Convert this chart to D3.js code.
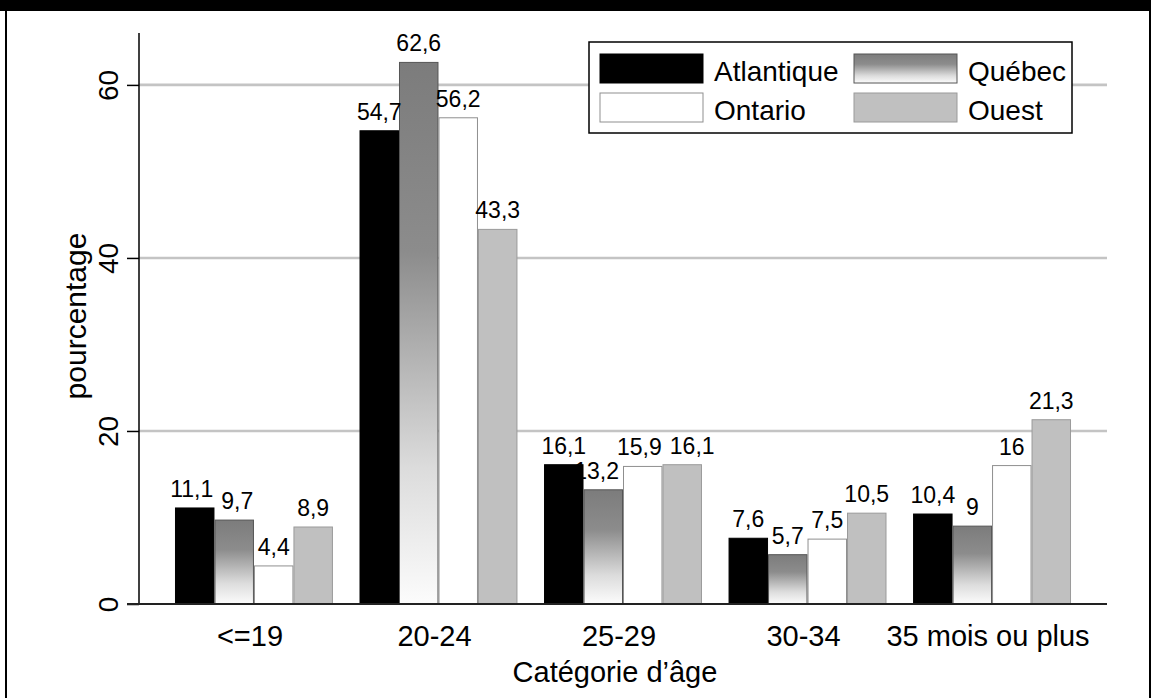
<!DOCTYPE html>
<html>
<head>
<meta charset="utf-8">
<script src="https://cdn.jsdelivr.net/npm/d3@7"></script>
<style>
  html, body { margin: 0; padding: 0; background: #fff; }
  svg { display: block; font-family: "Liberation Sans", Arial, Helvetica, sans-serif; }
</style>
</head>
<body>
<svg id="chart" width="1151" height="698"></svg>
<script>
// Age categories and the share (%) in each region
const categories = ["<=19", "20-24", "25-29", "30-34", "35 mois ou plus"];
const regions = ["Atlantique", "Québec", "Ontario", "Ouest"];
const atlantique = [11.1, 54.7, 16.1, 7.6, 10.4];
const quebec     = [9.7, 62.6, 13.2, 5.7, 9];
const ontario    = [4.4, 56.2, 15.9, 7.5, 16];
const ouest      = [8.9, 43.3, 16.1, 10.5, 21.3];
const yTicks = [0, 20, 40, 60];

const seriesValues = [atlantique, quebec, ontario, ouest];

const W = 1151, H = 698;
const plot = { left: 139, right: 1107, top: 33, bottom: 604 };

const svg = d3.select("#chart");

// gradient for the Québec bars
const defs = svg.append("defs");
const grad = defs.append("linearGradient")
  .attr("id", "qcGrad").attr("x1", 0).attr("y1", 0).attr("x2", 0).attr("y2", 1);
[[0, "#7c7c7c"], [0.35, "#8c8c8c"], [0.75, "#dcdcdc"], [1, "#fcfcfc"]].forEach(([o, c]) =>
  grad.append("stop").attr("offset", o).attr("stop-color", c));

const fills = ["#000000", "url(#qcGrad)", "#ffffff", "#c0c0c0"];
const strokes = ["#000000", "#555555", "#8f8f8f", "#9a9a9a"];

// outer frame
svg.append("rect").attr("x", 0).attr("y", 0).attr("width", W).attr("height", H).attr("fill", "#fff");
svg.append("rect").attr("x", 0).attr("y", 0).attr("width", W).attr("height", 11).attr("fill", "#000");
svg.append("rect").attr("x", 5).attr("y", 0).attr("width", 2).attr("height", H).attr("fill", "#000");
svg.append("rect").attr("x", 1149).attr("y", 0).attr("width", 2).attr("height", H).attr("fill", "#000");

const x0 = d3.scaleBand().domain(categories)
  .range([plot.left, plot.right]).paddingInner(0.144).paddingOuter(0.195);
const x1 = d3.scaleBand().domain(regions).range([0, x0.bandwidth()]).padding(0);
const y = d3.scaleLinear().domain([0, 66]).range([plot.bottom, plot.top]);

// horizontal grid
svg.append("g").selectAll("line").data(yTicks.filter(t => t > 0)).join("line")
  .attr("x1", plot.left).attr("x2", plot.right)
  .attr("y1", d => y(d)).attr("y2", d => y(d))
  .attr("stroke", "#c4c4c4").attr("stroke-width", 2.6);

// bars
const groups = svg.append("g").selectAll("g").data(categories).join("g")
  .attr("transform", d => `translate(${x0(d)},0)`);

regions.forEach((r, si) => {
  groups.append("rect")
    .attr("x", x1(r) + 0.5)
    .attr("y", (d, i) => y(seriesValues[si][i]))
    .attr("width", x1.bandwidth() - 1)
    .attr("height", (d, i) => y(0) - y(seriesValues[si][i]))
    .attr("fill", fills[si])
    .attr("stroke", strokes[si]).attr("stroke-width", 1);
});

// value labels
const fmt = v => String(v).replace(".", ",");
regions.forEach((r, si) => {
  groups.append("text")
    .attr("class", "vlab")
    .attr("x", x1(r) + x1.bandwidth() / 2)
    .attr("y", (d, i) => y(seriesValues[si][i]) - 11)
    .attr("text-anchor", "middle")
    .attr("font-size", 23)
    .attr("fill", "#000")
    .text((d, i) => fmt(seriesValues[si][i]));
});

// nudge neighbouring value labels apart when they collide
groups.each(function () {
  const labs = d3.select(this).selectAll("text.vlab").nodes();
  for (let k = 0; k < labs.length - 1; k++) {
    const a = labs[k].getBBox(), b = labs[k + 1].getBBox();
    const xOver = a.x + a.width + 4 - b.x;
    const yOver = Math.min(a.y + a.height, b.y + b.height) - Math.max(a.y, b.y);
    if (xOver > 0 && yOver > 2) {
      const s = xOver / 2 + 2;
      labs[k].setAttribute("x", +labs[k].getAttribute("x") - s);
      labs[k + 1].setAttribute("x", +labs[k + 1].getAttribute("x") + s);
    }
  }
});

// y axis
const yAxis = d3.axisLeft(y).tickValues(yTicks).tickSize(12).tickPadding(8);
const gy = svg.append("g").attr("transform", `translate(${plot.left},0)`).call(yAxis);
gy.select(".domain").attr("stroke", "#000").attr("stroke-width", 1.5)
  .attr("d", `M0,${plot.top}V${plot.bottom}`);
gy.selectAll(".tick line").attr("stroke", "#000").attr("stroke-width", 1.5);
gy.selectAll(".tick text")
  .attr("font-size", 28).attr("fill", "#000")
  .attr("text-anchor", "middle")
  .attr("transform", "translate(-21,0) rotate(-90)")
  .attr("x", 0).attr("y", 0).attr("dy", 0);

// x axis
const xAxis = d3.axisBottom(x0).tickSize(0).tickPadding(0);
const gx = svg.append("g").attr("transform", `translate(0,${plot.bottom})`).call(xAxis);
gx.select(".domain").attr("stroke", "#222").attr("stroke-width", 2)
  .attr("d", `M${plot.left - 12},0H${plot.right}`);
gx.selectAll(".tick text").attr("font-size", 29).attr("fill", "#000")
  .attr("x", -4).attr("y", 42).attr("dy", 0);

// axis titles
svg.append("text").attr("x", 615).attr("y", 682)
  .attr("text-anchor", "middle").attr("font-size", 29).text("Catégorie d’âge");
svg.append("text")
  .attr("transform", "translate(86,316) rotate(-90)")
  .attr("text-anchor", "middle").attr("font-size", 30).text("pourcentage");

// legend
const lg = svg.append("g");
lg.append("rect").attr("x", 589).attr("y", 42).attr("width", 483).attr("height", 91)
  .attr("fill", "#fff").attr("stroke", "#000").attr("stroke-width", 1.5);
const legendPos = [[600, 54], [854, 54], [600, 93], [854, 93]];
regions.forEach((name, si) => {
  const [lx, ly] = legendPos[si];
  lg.append("rect").attr("x", lx).attr("y", ly).attr("width", 103).attr("height", 29)
    .attr("fill", fills[si]).attr("stroke", strokes[si]).attr("stroke-width", 1);
  lg.append("text").attr("x", lx + 114).attr("y", ly + 27)
    .attr("font-size", 28).attr("fill", "#000").text(name);
});
</script>
</body>
</html>
